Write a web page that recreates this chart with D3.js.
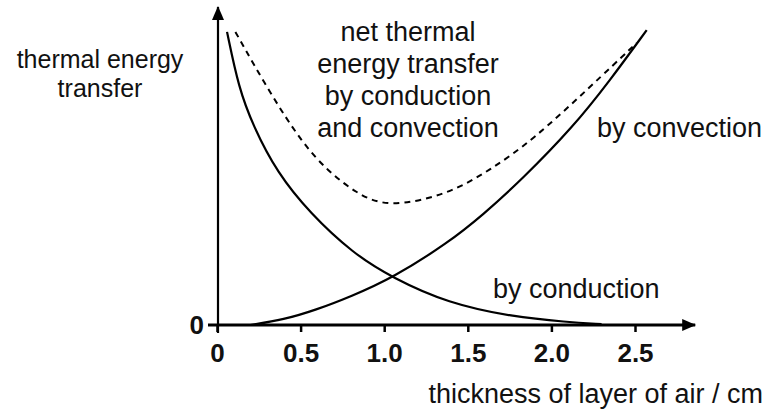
<!DOCTYPE html>
<html>
<head>
<meta charset="utf-8">
<script src="https://cdn.jsdelivr.net/npm/d3@7"></script>
<style>
  body { margin: 0; background: #fff; }
  text { font-family: "Liberation Sans", Arial, sans-serif; fill: #111; }
</style>
</head>
<body>
<script>
// values (x in cm, y in arbitrary units 0-100)
var conductionX = [0.06, 0.13, 0.215, 0.36, 0.556, 0.81, 1.05, 1.38, 1.77, 2.09, 2.3];
var conductionY = [97.7, 79, 66.5, 50.7, 37.3, 24, 15.7, 7.3, 2.7, 1.0, 0.3];

var convectionX = [0.2, 0.4, 0.59, 0.8, 1.05, 1.38, 1.59, 1.82, 2.13, 2.35, 2.57];
var convectionY = [0, 1.8, 5, 9.5, 15.7, 27.3, 36.7, 48.3, 66, 81.5, 98.3];

var netX = [0.11, 0.32, 0.51, 0.66, 0.83, 1.02, 1.38, 1.63, 1.89, 2.23, 2.51];
var netY = [97.7, 77, 60.7, 51.5, 44, 39, 43.5, 51.5, 61.7, 79.3, 94];

var xTicks = [0, 0.5, 1.0, 1.5, 2.0, 2.5];
var yTicks = [0];

var width = 766, height = 418;

var svg = d3.select("body").append("svg")
    .attr("width", width)
    .attr("height", height);

// value -> display
var xScale = d3.scaleLinear().domain([0, 2.5]).range([217, 635]);
var yScale = d3.scaleLinear().domain([0, 100]).range([325, 25]);

function toPoints(xs, ys) {
  return xs.map(function(x, i) { return {x: x, y: ys[i]}; });
}

// arrow heads
var defs = svg.append("defs");
defs.append("marker")
    .attr("id", "arrow")
    .attr("viewBox", "0 0 14 12")
    .attr("refX", 13).attr("refY", 6)
    .attr("markerWidth", 14).attr("markerHeight", 12)
    .attr("markerUnits", "userSpaceOnUse")
    .attr("orient", "auto")
  .append("path")
    .attr("d", "M0,0 L14,6 L0,12 Z")
    .attr("fill", "#000");

// x-axis
var xAxis = d3.axisBottom(xScale)
    .tickValues(xTicks)
    .tickSize(7)
    .tickPadding(12)
    .tickFormat(function(d) { return d === 0 ? "0" : d3.format(".1f")(d); });

var gx = svg.append("g")
    .attr("transform", "translate(0," + yScale(0) + ")")
    .call(xAxis);
gx.select(".domain").remove();
gx.selectAll(".tick line").attr("stroke", "#000").attr("stroke-width", 2.5);
gx.selectAll(".tick text")
    .attr("font-size", 26)
    .attr("font-weight", "bold")
    .attr("fill", "#111")
    .style("font-family", "'Liberation Sans', Arial, sans-serif");

svg.append("line")
    .attr("x1", xScale(0) - 9).attr("x2", xScale(2.86))
    .attr("y1", yScale(0)).attr("y2", yScale(0))
    .attr("stroke", "#000").attr("stroke-width", 3)
    .attr("marker-end", "url(#arrow)");

// y-axis
var yAxis = d3.axisLeft(yScale)
    .tickValues(yTicks)
    .tickSize(0)
    .tickPadding(14)
    .tickFormat(function(d) { return "0"; });

var gy = svg.append("g")
    .attr("transform", "translate(" + (xScale(0) + 1) + ",0)")
    .call(yAxis);
gy.select(".domain").remove();
gy.selectAll(".tick text")
    .attr("font-size", 26)
    .attr("font-weight", "bold")
    .attr("fill", "#111")
    .style("font-family", "'Liberation Sans', Arial, sans-serif");

svg.append("line")
    .attr("x1", xScale(0) + 1).attr("x2", xScale(0) + 1)
    .attr("y1", yScale(0) + 8).attr("y2", yScale(106))
    .attr("stroke", "#000").attr("stroke-width", 2.2)
    .attr("marker-end", "url(#arrow)");

// curves (smoothed through the read points)
var smooth = d3.line()
    .x(function(d) { return xScale(d.x); })
    .y(function(d) { return yScale(d.y); })
    .curve(d3.curveBasis);

svg.append("path")
    .attr("d", smooth(toPoints(conductionX, conductionY)))
    .attr("fill", "none").attr("stroke", "#000").attr("stroke-width", 2.2);

svg.append("path")
    .attr("d", smooth(toPoints(convectionX, convectionY)))
    .attr("fill", "none").attr("stroke", "#000").attr("stroke-width", 2.2);

svg.append("path")
    .attr("d", smooth(toPoints(netX, netY)))
    .attr("fill", "none").attr("stroke", "#000").attr("stroke-width", 2)
    .attr("stroke-dasharray", "6,5");

// labels
function addLines(lines, x, y0, dy, anchor, size) {
  lines.forEach(function(s, i) {
    svg.append("text")
        .attr("text-anchor", anchor)
        .attr("font-size", size)
        .attr("x", x).attr("y", y0 + i * dy)
        .text(s);
  });
}

addLines(["thermal energy", "transfer"], 100, 68, 29, "middle", 25);
addLines(["net thermal", "energy transfer", "by conduction", "and convection"], 408, 41, 32, "middle", 27);
addLines(["by convection"], 597, 137, 0, "start", 27);
addLines(["by conduction"], 493, 298, 0, "start", 27);
addLines(["thickness of layer of air / cm"], 763, 403, 0, "end", 27);
</script>
</body>
</html>
